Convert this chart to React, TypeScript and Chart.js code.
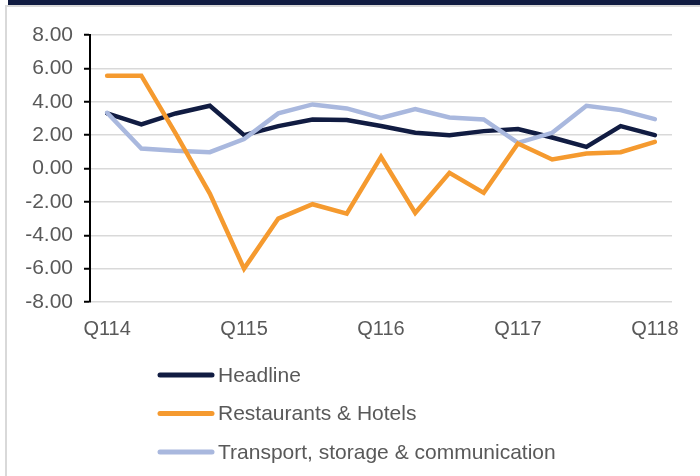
import React, { useEffect, useRef } from "react";
import { Chart, registerables } from "chart.js";

Chart.register(...registerables);

const quarters = [
  "Q114", "Q214", "Q314", "Q414",
  "Q115", "Q215", "Q315", "Q415",
  "Q116", "Q216", "Q316", "Q416",
  "Q117", "Q217", "Q317", "Q417",
  "Q118",
];
const shownTickLabels = ["Q114", "Q115", "Q116", "Q117", "Q118"];
const headline = [3.3, 2.64, 3.3, 3.76, 2.0, 2.54, 2.94, 2.9, 2.55, 2.14, 2.0, 2.24, 2.36, 1.86, 1.3, 2.54, 2.0];
const restaurantsHotels = [5.56, 5.56, 2.1, -1.5, -6.0, -3.0, -2.14, -2.7, 0.7, -2.66, -0.26, -1.46, 1.5, 0.54, 0.9, 0.98, 1.6];
const transportStorage = [3.34, 1.2, 1.06, 0.98, 1.76, 3.3, 3.84, 3.6, 3.03, 3.56, 3.06, 2.94, 1.54, 2.14, 3.76, 3.5, 2.96];
const seriesNames = ["Headline", "Restaurants & Hotels", "Transport, storage & communication"];
const seriesColors = ["#111C42", "#F59A2F", "#A9B8DE"];

const FONT = 'Arial, "Liberation Sans", sans-serif';
const TEXT = "#595959";

const stackedLegend = {
  id: "stackedLegend",
  afterDraw(chart: any) {
    const { ctx, chartArea } = chart;
    const x0 = chartArea.left + 68;
    const lineLen = 56;
    const y0 = chartArea.bottom + 73;
    const rowH = 38.5;
    ctx.save();
    ctx.font = `21px ${FONT}`;
    ctx.textBaseline = "middle";
    ctx.textAlign = "left";
    chart.data.datasets.forEach((ds: any, i: number) => {
      const y = y0 + i * rowH;
      ctx.strokeStyle = ds.borderColor;
      ctx.lineWidth = 5;
      ctx.lineCap = "round";
      ctx.beginPath();
      ctx.moveTo(x0 + 2, y);
      ctx.lineTo(x0 + lineLen - 2, y);
      ctx.stroke();
      ctx.fillStyle = TEXT;
      ctx.fillText(ds.label, x0 + lineLen + 4, y + 1);
    });
    ctx.restore();
  },
};

export default function App() {
  const canvasRef = useRef<HTMLCanvasElement | null>(null);

  useEffect(() => {
    document.body.style.margin = "0";
    const canvas = canvasRef.current;
    if (!canvas) return;
    const datasets = [headline, restaurantsHotels, transportStorage].map((d, i) => ({
      label: seriesNames[i],
      data: d,
      borderColor: seriesColors[i],
      backgroundColor: seriesColors[i],
      borderWidth: 4.5,
      pointRadius: 0,
      pointHoverRadius: 0,
      tension: 0,
      fill: false,
      borderCapStyle: "round" as const,
      order: [2, 0, 1][i],
    }));
    const chart = new Chart(canvas, {
      type: "line",
      data: { labels: quarters, datasets },
      options: {
        animation: false,
        responsive: false,
        maintainAspectRatio: false,
        layout: { padding: { top: 35, right: 28, bottom: 0, left: 0 } },
        plugins: {
          legend: { display: false },
          tooltip: { enabled: false },
        },
        scales: {
          x: {
            offset: true,
            grid: { display: false },
            border: { display: false },
            ticks: {
              autoSkip: false,
              maxRotation: 0,
              padding: 7,
              color: TEXT,
              font: { family: FONT, size: 20 },
              callback: (_v: any, i: number) =>
                shownTickLabels.includes(quarters[i]) ? quarters[i] : "",
            },
            afterFit: (scale: any) => {
              scale.height = 174;
            },
          },
          y: {
            min: -8,
            max: 8,
            ticks: {
              stepSize: 2,
              padding: 11,
              color: TEXT,
              font: { family: FONT, size: 21 },
              callback: (v: any) => Number(v).toFixed(2),
            },
            grid: {
              color: "#D9D9D9",
              lineWidth: 1.5,
              tickColor: "#000000",
              tickLength: 6,
              tickWidth: 2,
            },
            border: { display: true, color: "#000000", width: 2 },
            afterFit: (scale: any) => {
              scale.width = 90;
            },
          },
        },
      },
      plugins: [stackedLegend],
    });
    return () => chart.destroy();
  }, []);

  return (
    <div style={{ position: "relative", width: 700, height: 476, overflow: "hidden", background: "#fff" }}>
      <div style={{ position: "absolute", left: 8, top: 0, width: 692, height: 5, background: "#111C42" }} />
      <div
        style={{
          position: "absolute",
          left: 5,
          top: 5,
          width: 760,
          height: 560,
          border: "2px solid #D9D9D9",
          boxSizing: "border-box",
        }}
      />
      <canvas ref={canvasRef} width={700} height={476} style={{ position: "absolute", left: 0, top: 0 }} />
    </div>
  );
}
